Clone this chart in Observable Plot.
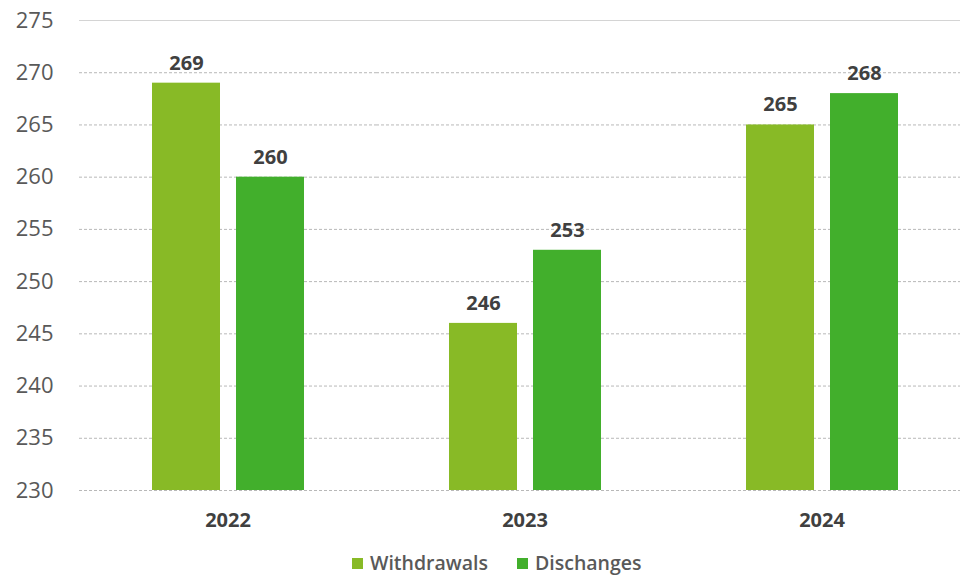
<!DOCTYPE html>
<html>
<head>
<meta charset="utf-8">
<script src="https://cdn.jsdelivr.net/npm/d3@7"></script>
<script src="https://cdn.jsdelivr.net/npm/@observablehq/plot@0.6"></script>
<style>
  html, body { margin: 0; padding: 0; background: #fff; overflow: hidden; width: 960px; height: 578px; }
  #chart svg { display: block; }
  .legend { display: flex; align-items: center; margin-left: 352px; padding-top: 13px;
    font-family: "Open Sans", sans-serif; font-size: 19.5px; font-weight: 600; color: #595959; line-height: 20px; }
  .legend .item { display: flex; align-items: center; margin-right: 29px; }
  .legend .sw { width: 11px; height: 11px; margin-right: 7px; }
</style>
</head>
<body>
<div id="chart"></div>
<script>
const years = ["2022", "2023", "2024"];
const seriesNames = ["Withdrawals", "Dischanges"];
const withdrawals = [269, 246, 265];
const discharges = [260, 253, 268];
const yTicks = [230, 235, 240, 245, 250, 255, 260, 265, 270, 275];
const colors = ["#88BA26", "#42AF2C"];

const data = [];
years.forEach((yr, i) => {
  data.push({year: yr, series: seriesNames[0], value: withdrawals[i]});
  data.push({year: yr, series: seriesNames[1], value: discharges[i]});
});

const font = '"Open Sans", sans-serif';
const chart = Plot.plot({
  width: 960,
  height: 540,
  marginLeft: 79,
  marginRight: -10,
  marginTop: 20,
  marginBottom: 50,
  style: {fontFamily: font, background: "#fff", overflow: "hidden"},
  fx: {domain: years, padding: 0, label: null},
  x: {domain: seriesNames, paddingInner: 0.1905, paddingOuter: 0.863, axis: null},
  y: {domain: [230, 275], label: null, axis: null},
  color: {domain: seriesNames, range: colors},
  marks: [
    Plot.ruleY(yTicks.filter(d => d !== 275), {stroke: "#b8b8b8", strokeDasharray: "3,2", strokeWidth: 1}),
    Plot.ruleY([275], {stroke: "#d4d4d4", strokeWidth: 1.2}),
    Plot.barY(data, {fx: "year", x: "series", y1: 230, y2: "value", fill: "series"}),
    Plot.text(data, {fx: "year", x: "series", y: "value", text: d => String(d.value), dy: -20,
      fontSize: 20, fontWeight: 700, fill: "#404040"}),
    Plot.axisY(yTicks, {tickSize: 0, tickPadding: 26, fontSize: 22, color: "#595959", label: null, facetAnchor: "left"}),
    Plot.axisFx({tickSize: 0, tickPadding: 22, fontSize: 20, fontWeight: 700, color: "#404040", label: null, anchor: "bottom"})
  ]
});
document.getElementById("chart").appendChild(chart);

const legend = document.createElement("div");
legend.className = "legend";
seriesNames.forEach((s, i) => {
  const item = document.createElement("div");
  item.className = "item";
  const sw = document.createElement("span");
  sw.className = "sw";
  sw.style.background = colors[i];
  const t = document.createElement("span");
  t.textContent = s;
  item.appendChild(sw);
  item.appendChild(t);
  legend.appendChild(item);
});
document.body.appendChild(legend);
</script>
</body>
</html>
